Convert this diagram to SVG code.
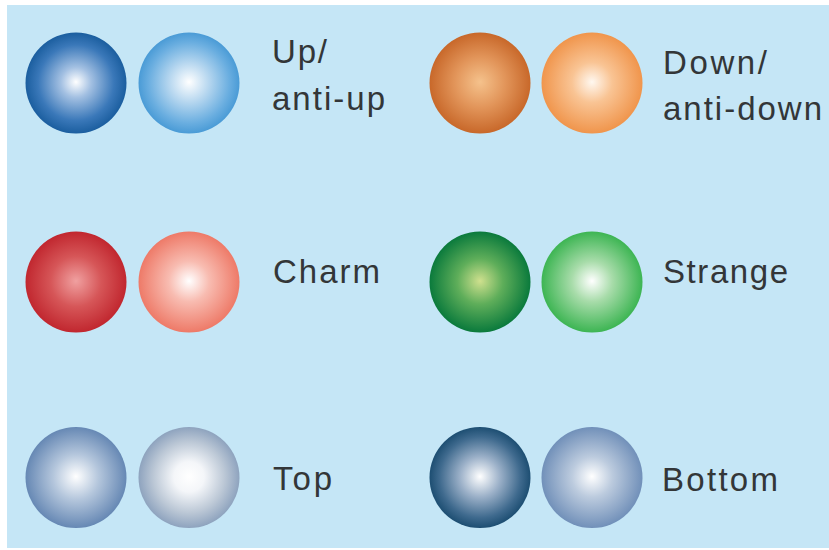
<svg xmlns="http://www.w3.org/2000/svg" width="829" height="550" viewBox="0 0 829 550">
  <style>
    .label { font-family: "Liberation Sans", Arial, Helvetica, sans-serif; font-size: 33px; fill: #333638; }
  </style>
  <defs>
    <!-- Shaded quark spheres: bright core fading to a saturated rim -->
    <radialGradient id="upDark" cx="0.5" cy="0.5" r="0.5" fx="0.5" fy="0.49">
      <stop offset="0" stop-color="#ffffff"/>
      <stop offset="0.3" stop-color="#a3c0e2"/>
      <stop offset="0.75" stop-color="#3a78b9"/>
      <stop offset="1" stop-color="#1b5e9f"/>
    </radialGradient>
    <radialGradient id="upLight" cx="0.5" cy="0.5" r="0.5" fx="0.5" fy="0.49">
      <stop offset="0" stop-color="#ffffff"/>
      <stop offset="0.4" stop-color="#b5d6ef"/>
      <stop offset="0.8" stop-color="#6aaee0"/>
      <stop offset="1" stop-color="#4a9bd6"/>
    </radialGradient>
    <radialGradient id="downDark" cx="0.5" cy="0.5" r="0.5" fx="0.5" fy="0.49">
      <stop offset="0" stop-color="#f5c28c"/>
      <stop offset="0.5" stop-color="#e2955a"/>
      <stop offset="1" stop-color="#c8682a"/>
    </radialGradient>
    <radialGradient id="downLight" cx="0.5" cy="0.5" r="0.5" fx="0.5" fy="0.49">
      <stop offset="0" stop-color="#fff8f0"/>
      <stop offset="0.4" stop-color="#f9c494"/>
      <stop offset="1" stop-color="#f0954c"/>
    </radialGradient>
    <radialGradient id="charmDark" cx="0.5" cy="0.5" r="0.5" fx="0.5" fy="0.49">
      <stop offset="0" stop-color="#f0a0a0"/>
      <stop offset="0.5" stop-color="#d65658"/>
      <stop offset="1" stop-color="#c1272f"/>
    </radialGradient>
    <radialGradient id="charmLight" cx="0.5" cy="0.5" r="0.5" fx="0.5" fy="0.49">
      <stop offset="0" stop-color="#ffffff"/>
      <stop offset="0.4" stop-color="#f8bcb1"/>
      <stop offset="1" stop-color="#ee7a68"/>
    </radialGradient>
    <radialGradient id="strangeDark" cx="0.5" cy="0.5" r="0.5" fx="0.5" fy="0.49">
      <stop offset="0" stop-color="#cfe08e"/>
      <stop offset="0.45" stop-color="#5fae5a"/>
      <stop offset="1" stop-color="#0a7a3c"/>
    </radialGradient>
    <radialGradient id="strangeLight" cx="0.5" cy="0.5" r="0.5" fx="0.5" fy="0.49">
      <stop offset="0" stop-color="#ffffff"/>
      <stop offset="0.4" stop-color="#a8dcaa"/>
      <stop offset="1" stop-color="#3db553"/>
    </radialGradient>
    <radialGradient id="topDark" cx="0.5" cy="0.5" r="0.5" fx="0.5" fy="0.49">
      <stop offset="0" stop-color="#ffffff"/>
      <stop offset="0.45" stop-color="#b4c6dc"/>
      <stop offset="1" stop-color="#6688b4"/>
    </radialGradient>
    <radialGradient id="topLight" cx="0.5" cy="0.5" r="0.5" fx="0.5" fy="0.49">
      <stop offset="0" stop-color="#ffffff"/>
      <stop offset="0.3" stop-color="#f4f6f9"/>
      <stop offset="0.7" stop-color="#bcc8d6"/>
      <stop offset="1" stop-color="#8ea3be"/>
    </radialGradient>
    <radialGradient id="bottomDark" cx="0.5" cy="0.5" r="0.5" fx="0.5" fy="0.49">
      <stop offset="0" stop-color="#ffffff"/>
      <stop offset="0.4" stop-color="#9bb0c8"/>
      <stop offset="0.8" stop-color="#3f6a8e"/>
      <stop offset="1" stop-color="#1d4e72"/>
    </radialGradient>
    <radialGradient id="bottomLight" cx="0.5" cy="0.5" r="0.5" fx="0.5" fy="0.49">
      <stop offset="0" stop-color="#ffffff"/>
      <stop offset="0.4" stop-color="#bccbde"/>
      <stop offset="1" stop-color="#7190b9"/>
    </radialGradient>
  </defs>

  <rect x="0" y="0" width="829" height="550" fill="#ffffff"/>
  <rect x="7" y="5" width="822" height="543" fill="#c5e6f6"/>

  <g id="up">
    <circle cx="76" cy="83" r="50.5" fill="url(#upDark)"/>
    <circle cx="189" cy="83" r="50.5" fill="url(#upLight)"/>
    <text class="label" x="272" y="63" textLength="55" lengthAdjust="spacing">Up/</text>
    <text class="label" x="272" y="110" textLength="113" lengthAdjust="spacing">anti-up</text>
  </g>

  <g id="down">
    <circle cx="480" cy="83" r="50.5" fill="url(#downDark)"/>
    <circle cx="592" cy="83" r="50.5" fill="url(#downLight)"/>
    <text class="label" x="663" y="74" textLength="104" lengthAdjust="spacing">Down/</text>
    <text class="label" x="663" y="120" textLength="159" lengthAdjust="spacing">anti-down</text>
  </g>

  <g id="charm">
    <circle cx="76" cy="282" r="50.5" fill="url(#charmDark)"/>
    <circle cx="189" cy="282" r="50.5" fill="url(#charmLight)"/>
    <text class="label" x="273" y="283" textLength="107" lengthAdjust="spacing">Charm</text>
  </g>

  <g id="strange">
    <circle cx="480" cy="282" r="50.5" fill="url(#strangeDark)"/>
    <circle cx="592" cy="282" r="50.5" fill="url(#strangeLight)"/>
    <text class="label" x="663" y="283" textLength="125" lengthAdjust="spacing">Strange</text>
  </g>

  <g id="top">
    <circle cx="76" cy="477.5" r="50.5" fill="url(#topDark)"/>
    <circle cx="189" cy="477.5" r="50.5" fill="url(#topLight)"/>
    <text class="label" x="273" y="490" textLength="59" lengthAdjust="spacing">Top</text>
  </g>

  <g id="bottom">
    <circle cx="480" cy="477.5" r="50.5" fill="url(#bottomDark)"/>
    <circle cx="592" cy="477.5" r="50.5" fill="url(#bottomLight)"/>
    <text class="label" x="662" y="491" textLength="116" lengthAdjust="spacing">Bottom</text>
  </g>
</svg>
